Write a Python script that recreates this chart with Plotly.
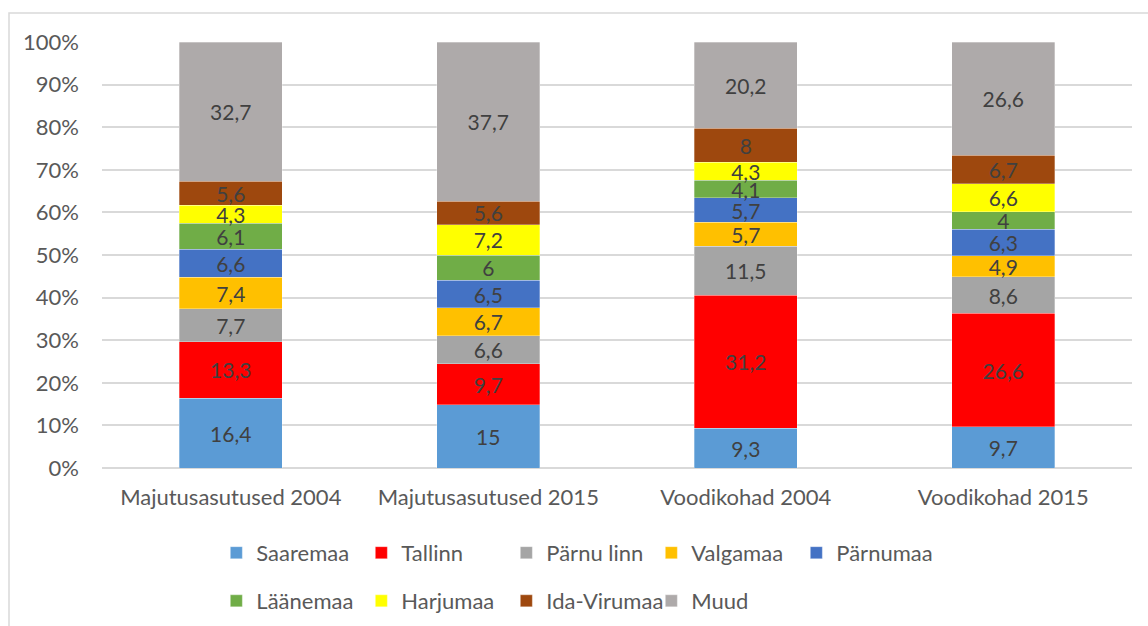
import plotly.graph_objects as go

categories = ["Majutusasutused 2004", "Majutusasutused 2015", "Voodikohad 2004", "Voodikohad 2015"]

saaremaa = [16.4, 15, 9.3, 9.7]
tallinn = [13.3, 9.7, 31.2, 26.6]
parnu_linn = [7.7, 6.6, 11.5, 8.6]
valgamaa = [7.4, 6.7, 5.7, 4.9]
parnumaa = [6.6, 6.5, 5.7, 6.3]
laanemaa = [6.1, 6, 4.1, 4]
harjumaa = [4.3, 7.2, 4.3, 6.6]
ida_virumaa = [5.6, 5.6, 8, 6.7]
muud = [32.7, 37.7, 20.2, 26.6]

series = [
    ("Saaremaa", saaremaa, "#5B9BD5", "legend"),
    ("Tallinn", tallinn, "#FF0000", "legend"),
    ("Pärnu linn", parnu_linn, "#A5A5A5", "legend"),
    ("Valgamaa", valgamaa, "#FFC000", "legend"),
    ("Pärnumaa", parnumaa, "#4472C4", "legend"),
    ("Läänemaa", laanemaa, "#70AD47", "legend2"),
    ("Harjumaa", harjumaa, "#FFFF00", "legend2"),
    ("Ida-Virumaa", ida_virumaa, "#9E480E", "legend2"),
    ("Muud", muud, "#AEAAAA", "legend2"),
]

FONT = "Lato"
FS = 22
fig = go.Figure()
for name, vals, color, lg in series:
    fig.add_trace(go.Bar(
        name=name, x=categories, y=vals,
        marker=dict(color=color, line=dict(color="rgba(255,255,255,0.6)", width=0.5)),
        text=[f"{v:g}".replace(".", ",") for v in vals],
        textposition="inside", insidetextanchor="middle", textangle=0,
        textfont=dict(family=FONT, size=21, color="#404040"),
        legend=lg, hoverinfo="skip",
    ))

legend_common = dict(orientation="h", xanchor="left", yanchor="top",
                     entrywidth=100, entrywidthmode="pixels", itemwidth=30,
                     font=dict(family=FONT, size=FS, color="#595959"),
                     traceorder="normal", bgcolor="rgba(0,0,0,0)")

fig.update_layout(
    barmode="stack", barnorm="percent", bargap=0.6,
    width=1148, height=626,
    margin=dict(l=102, r=16, t=42, b=158, autoexpand=False),
    paper_bgcolor="white", plot_bgcolor="white",
    font=dict(family=FONT, size=FS, color="#595959"),
    uniformtext=dict(minsize=21, mode="show"),
    xaxis=dict(showgrid=False, showline=False, ticks="", ticklabelstandoff=14,
               tickfont=dict(family=FONT, size=FS, color="#595959")),
    yaxis=dict(range=[0, 100], tickvals=[0, 10, 20, 30, 40, 50, 60, 70, 80, 90, 100],
               ticktext=[f"{v}%" for v in range(0, 101, 10)],
               showgrid=True, gridcolor="#D9D9D9", gridwidth=1.5, zeroline=True,
               zerolinecolor="#D9D9D9", zerolinewidth=1.5, showline=False, ticks="",
               ticklabelstandoff=22, tickfont=dict(family=FONT, size=FS, color="#595959")),
    legend=dict(x=0.111, y=-0.15, **legend_common),
    legend2=dict(x=0.111, y=-0.263, **legend_common),
    showlegend=True,
)

fig.add_shape(type="rect", xref="paper", yref="paper",
              x0=-93/1030, x1=1.5, y0=-2, y1=(468-13)/426,
              line=dict(color="#D9D9D9", width=1.5), fillcolor="rgba(0,0,0,0)", layer="below")

fig.write_html("out.html", config={"displayModeBar": False},
               post_script="document.body.style.margin='0';")
